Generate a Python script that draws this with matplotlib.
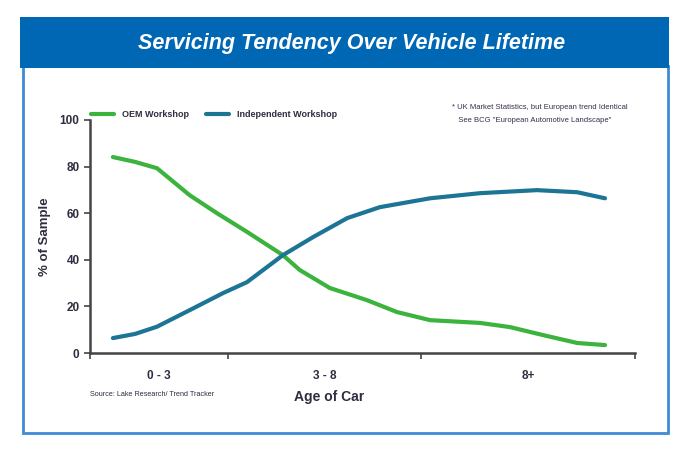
import matplotlib
matplotlib.use("Agg")
import matplotlib.pyplot as plt
from matplotlib.patches import Rectangle

plt.rcParams['font.family'] = ['Liberation Sans Narrow', 'Liberation Sans', 'DejaVu Sans']

# age-of-car axis (category bands of unequal width)
band_edges = [0, 2.53, 6.07, 10]
band_labels = ['0 - 3', '3 - 8', '8+']

# values
oem_x = [0.42, 0.83, 1.23, 1.83, 2.33, 2.88, 3.54, 3.85, 4.40, 5.08, 5.63, 6.24, 7.16, 7.71, 8.31, 8.94, 9.45]
oem_y = [84.1, 82.0, 79.3, 67.7, 60.0, 52.0, 42.0, 35.6, 27.9, 22.7, 17.6, 14.1, 12.9, 11.1, 7.7, 4.3, 3.4]

ind_x = [0.42, 0.83, 1.23, 1.83, 2.44, 2.88, 3.54, 4.09, 4.72, 5.32, 6.24, 7.16, 8.20, 8.94, 9.45]
ind_y = [6.4, 8.2, 11.3, 18.4, 25.7, 30.4, 42.0, 49.7, 57.9, 62.6, 66.4, 68.6, 69.9, 69.0, 66.4]

green = '#3cb33c'
blue = '#1d7595'
txt = '#2e2e40'

fig = plt.figure(figsize=(6.89, 4.54), dpi=100)

# frame + header band
W, H = 689, 454
fig.patches.append(Rectangle((23 / W, 1 - 433 / H), (668 - 23) / W, (433 - 66) / H,
                             transform=fig.transFigure, fill=False, ec='#3f8bd6', lw=2))
fig.patches.append(Rectangle((20 / W, 1 - 68 / H), (669 - 20) / W, (68 - 17) / H,
                             transform=fig.transFigure, fc='#0067b4', ec='none'))
fig.text(352 / W, 1 - 43 / H, 'Servicing Tendency Over Vehicle Lifetime', color='white',
         fontsize=15.5, fontweight='bold', fontstyle='italic', ha='center', va='center')

ax = fig.add_axes([90 / W, 1 - 353 / H, (635 - 90) / W, (353 - 120) / H])
ax.plot(oem_x, oem_y, color=green, lw=3, solid_capstyle='round', solid_joinstyle='round', label='OEM Workshop')
ax.plot(ind_x, ind_y, color=blue, lw=3, solid_capstyle='round', solid_joinstyle='round', label='Independent Workshop')

ax.set_xlim(band_edges[0], band_edges[-1])
ax.set_ylim(0, 100)
ax.set_yticks([0, 20, 40, 60, 80, 100])
ax.set_xticks(band_edges)
ax.set_xticklabels([])
centers = [(band_edges[i] + band_edges[i + 1]) / 2 for i in range(len(band_labels))]
ax.set_xticks(centers, minor=True)
ax.set_xticklabels(band_labels, minor=True)
ax.tick_params(axis='x', which='minor', length=0, pad=12, labelsize=8.5, labelcolor=txt)
ax.tick_params(axis='x', which='major', length=4, width=1.2, color='#444444')
ax.tick_params(axis='y', length=4, width=1.2, color='#444444', labelsize=8.5, labelcolor=txt)
for lab in ax.get_yticklabels() + ax.get_xticklabels(minor=True):
    lab.set_fontweight('bold')
for s in ['top', 'right']:
    ax.spines[s].set_visible(False)
for s in ['left', 'bottom']:
    ax.spines[s].set_color('#444444')
    ax.spines[s].set_linewidth(1.8)

ax.set_ylabel('% of Sample', fontsize=9.5, fontweight='bold', color=txt, labelpad=6)
fig.text(329 / W, 1 - 397 / H, 'Age of Car', fontsize=10, fontweight='bold', color=txt,
         ha='center', va='center')
fig.text(90 / W, 1 - 394 / H, 'Source: Lake Research/ Trend Tracker', fontsize=5.2, color=txt,
         ha='left', va='center')

ax.legend(loc='lower left', bbox_to_anchor=(0, 1.0), ncol=2, frameon=False, handlelength=2.6,
          columnspacing=1.8, handletextpad=0.9, borderaxespad=0.1, borderpad=0,
          prop={'size': 6.5, 'weight': 'bold'})
for t in ax.get_legend().get_texts():
    t.set_color(txt)

fig.text(452 / W, 1 - 114 / H, '* UK Market Statistics, but European trend Identical\n'
         '   See BCG "European Automotive Landscape"', fontsize=5.5, color='#3a2c4e',
         ha='left', va='center', linespacing=2.3)

fig.savefig('out.png', dpi=100)
